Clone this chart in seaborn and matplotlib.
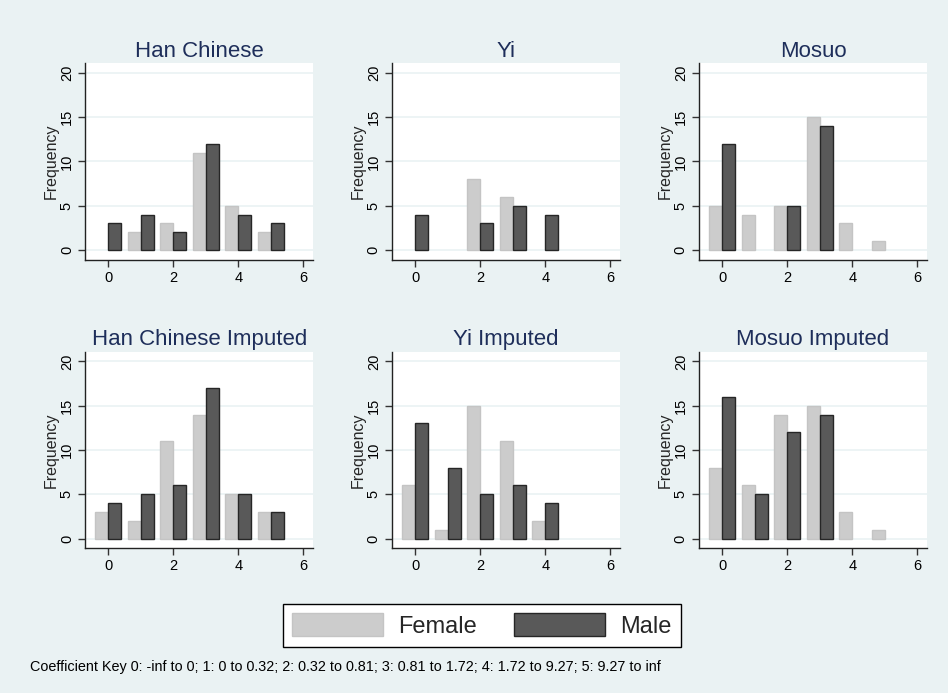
import matplotlib
matplotlib.use("Agg")
import matplotlib.pyplot as plt
from matplotlib.patches import Patch
import seaborn as sns
import pandas as pd

# ---- data ----
categories = [0, 1, 2, 3, 4, 5]
panel_titles = ["Han Chinese", "Yi", "Mosuo",
                "Han Chinese Imputed", "Yi Imputed", "Mosuo Imputed"]
female_counts = [
    [0, 2, 3, 11, 5, 2],
    [0, 0, 8, 6, 0, 0],
    [5, 4, 5, 15, 3, 1],
    [3, 2, 11, 14, 5, 3],
    [6, 1, 15, 11, 2, 0],
    [8, 6, 14, 15, 3, 1],
]
male_counts = [
    [3, 4, 2, 12, 4, 3],
    [4, 0, 3, 5, 4, 0],
    [12, 0, 5, 14, 0, 0],
    [4, 5, 6, 17, 5, 3],
    [13, 8, 5, 6, 4, 0],
    [16, 5, 12, 14, 0, 0],
]
sexes = ["Female", "Male"]
x_ticks = [0, 2, 4, 6]
y_ticks = [0, 5, 10, 15, 20]
footnote = ("Coefficient Key 0: -inf to 0; 1: 0 to 0.32; 2: 0.32 to 0.81; "
            "3: 0.81 to 1.72; 4: 1.72 to 9.27; 5: 9.27 to inf")

# ---- style ----
BG = "#EAF2F3"
FEMALE_C = "#CCCCCC"
MALE_C = "#595959"
edge_map = {FEMALE_C: "#C4C4C4", MALE_C: "#262626"}
TITLE_C = "#1E2E5A"

sns.set_theme(style="white")
plt.rcParams["font.family"] = ["Liberation Sans", "DejaVu Sans"]

fig, axes = plt.subplots(2, 3, figsize=(9.48, 6.93), dpi=100)
fig.patch.set_facecolor(BG)
fig.subplots_adjust(left=0.0897, right=0.978, top=0.909, bottom=0.2088,
                    wspace=0.345, hspace=0.467)

for i, ax in enumerate(axes.flat):
    rows = []
    for c, f, m in zip(categories, female_counts[i], male_counts[i]):
        if f > 0:
            rows.append({"cat": c, "sex": "Female", "count": f})
        if m > 0:
            rows.append({"cat": c, "sex": "Male", "count": m})
    df = pd.DataFrame(rows)
    ax.set_facecolor("white")
    ax.set_axisbelow(True)
    ax.yaxis.grid(True, color=BG, linewidth=1.2)
    sns.barplot(data=df, x="cat", y="count", hue="sex", hue_order=sexes,
                palette={"Female": FEMALE_C, "Male": MALE_C},
                native_scale=True, width=0.8, dodge=True, errorbar=None,
                saturation=1, legend=False, linewidth=1.0, ax=ax)
    for p in ax.patches:
        fc = matplotlib.colors.to_hex(p.get_facecolor()).upper()
        p.set_edgecolor(edge_map.get(fc, "#262626"))
    ax.set_xlim(-0.72, 6.3)
    ax.set_ylim(-1.1, 21.1)
    ax.set_xticks(x_ticks)
    ax.set_xticklabels([str(t) for t in x_ticks], fontsize=10.5)
    ax.set_yticks(y_ticks)
    ax.set_yticklabels([str(t) for t in y_ticks], fontsize=10.5,
                       rotation=90, va="center")
    ax.set_xlabel("")
    ax.set_ylabel("Frequency", fontsize=11.5, labelpad=1)
    ax.set_title(panel_titles[i], fontsize=16, color=TITLE_C, pad=4.5)
    for s in ["top", "right"]:
        ax.spines[s].set_visible(False)
    for s in ["left", "bottom"]:
        ax.spines[s].set_color("#222222")
        ax.spines[s].set_linewidth(1.0)
    ax.tick_params(axis="both", direction="out", length=5, width=1,
                   color="#333333", labelcolor="black", pad=3,
                   left=True, bottom=True)

handles = [Patch(facecolor=FEMALE_C, edgecolor=edge_map[FEMALE_C], label="Female"),
           Patch(facecolor=MALE_C, edgecolor=edge_map[MALE_C], label="Male")]
leg = fig.legend(handles=handles, loc="center", bbox_to_anchor=(0.5085, 0.0974),
                 ncol=2, fontsize=17, frameon=True, fancybox=False,
                 handlelength=3.85, handleheight=1.06, handletextpad=0.64,
                 columnspacing=1.57, borderpad=0.4, edgecolor="black",
                 facecolor="white", framealpha=1)
leg.get_frame().set_linewidth(1.0)

fig.text(0.032, 0.0375, footnote, fontsize=10.4, ha="left", va="center",
         color="black")

fig.savefig("out.png", dpi=100, facecolor=BG)
